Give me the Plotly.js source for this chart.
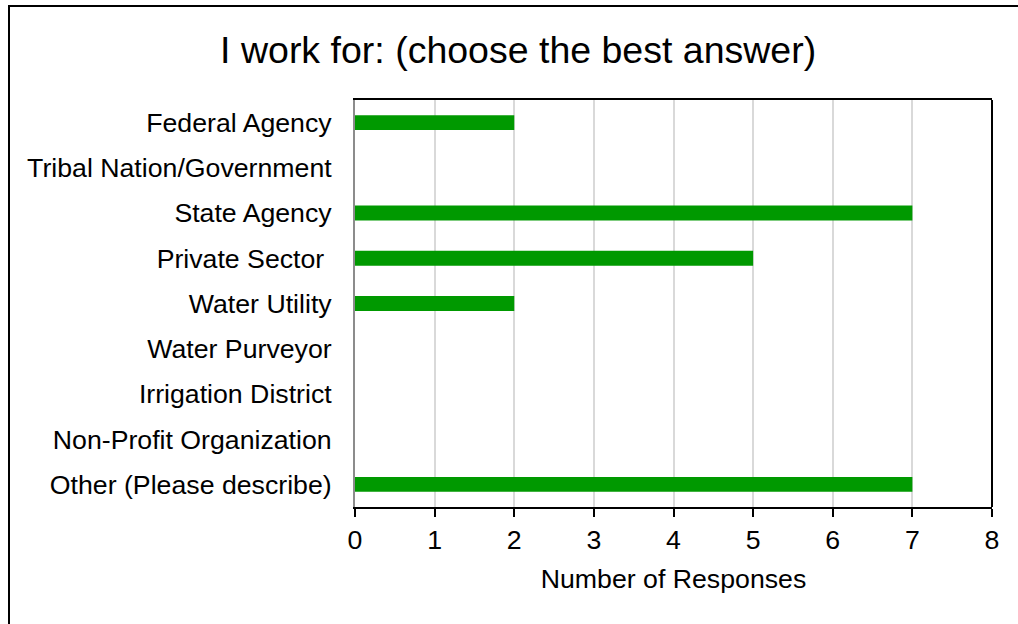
<!DOCTYPE html>
<html>
<head>
<meta charset="utf-8">
<script src="https://cdn.plot.ly/plotly-3.0.1.min.js"></script>
<style>
html,body{margin:0;padding:0;background:#fff;}
#wrap{position:relative;width:1018px;height:624px;overflow:hidden;}
#chart{width:1018px;height:624px;}
#frame{position:absolute;left:8px;top:5px;width:1100px;height:700px;border-left:2px solid #000;border-top:2px solid #000;pointer-events:none;}
</style>
</head>
<body>
<div id="wrap"><div id="chart"></div><div id="frame"></div></div>
<script>
const categories = [
  "Federal Agency",
  "Tribal Nation/Government",
  "State Agency",
  "Private Sector ",
  "Water Utility",
  "Water Purveyor",
  "Irrigation District",
  "Non-Profit Organization",
  "Other (Please describe)"
];
const responses = [2, 0, 7, 5, 2, 0, 0, 0, 7];
const xTicks = [0, 1, 2, 3, 4, 5, 6, 7, 8];

const font = "Liberation Sans, Arial, sans-serif";

Plotly.newPlot("chart", [{
  type: "bar",
  orientation: "h",
  x: responses,
  y: categories,
  width: 0.33,
  marker: {color: "#009900", line: {width: 0}},
  hoverinfo: "x+y"
}], {
  width: 1018,
  height: 624,
  margin: {l: 355, r: 26, t: 100, b: 117, pad: 0},
  paper_bgcolor: "#fff",
  plot_bgcolor: "#fff",
  showlegend: false,
  title: {
    text: "I work for: (choose the best answer)",
    font: {family: font, size: 37.5, color: "#000"},
    x: 0.509, xanchor: "center", xref: "container",
    y: 0.92, yanchor: "middle"
  },
  xaxis: {
    range: [0, 8],
    tickvals: xTicks,
    ticktext: xTicks.map(String),
    showgrid: true,
    gridcolor: "#d9d9d9",
    gridwidth: 2,
    zeroline: false,
    showline: true,
    linecolor: "#000",
    linewidth: 2,
    mirror: true,
    ticks: "outside",
    ticklen: 8,
    tickwidth: 2,
    tickcolor: "#000",
    tickfont: {family: font, size: 26.7, color: "#000"},
    title: {text: "Number of Responses", font: {family: font, size: 26.7, color: "#000"}, standoff: 15},
    fixedrange: true
  },
  yaxis: {
    type: "category",
    categoryorder: "array",
    categoryarray: categories,
    autorange: "reversed",
    showgrid: false,
    zeroline: false,
    showline: true,
    linecolor: "#8c8c8c",
    linewidth: 2,
    ticks: "",
    ticklabelstandoff: 16,
    tickfont: {family: font, size: 26.7, color: "#000"},
    fixedrange: true
  },
  shapes: [{
    type: "line", xref: "paper", yref: "paper",
    x0: 1, x1: 1, y0: 0, y1: 1,
    line: {color: "#000", width: 2}
  }]
}, {displayModeBar: false, staticPlot: true});
</script>
</body>
</html>
